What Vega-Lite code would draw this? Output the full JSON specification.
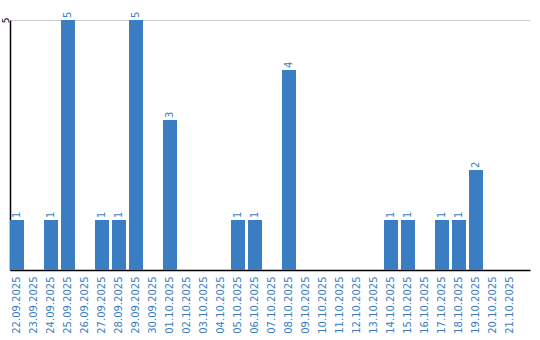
{
  "$schema": "https://vega.github.io/schema/vega-lite/v6.json",
  "autosize": {"type": "none"},
  "padding": {"left": 10, "top": 20, "right": 10, "bottom": 70},
  "width": 520,
  "height": 250,
  "background": "white",
  "data": {"values": [
    {"d": "22.09.2025", "v": 1}, {"d": "23.09.2025", "v": 0}, {"d": "24.09.2025", "v": 1},
    {"d": "25.09.2025", "v": 5}, {"d": "26.09.2025", "v": 0}, {"d": "27.09.2025", "v": 1},
    {"d": "28.09.2025", "v": 1}, {"d": "29.09.2025", "v": 5}, {"d": "30.09.2025", "v": 0},
    {"d": "01.10.2025", "v": 3}, {"d": "02.10.2025", "v": 0}, {"d": "03.10.2025", "v": 0},
    {"d": "04.10.2025", "v": 0}, {"d": "05.10.2025", "v": 1}, {"d": "06.10.2025", "v": 1},
    {"d": "07.10.2025", "v": 0}, {"d": "08.10.2025", "v": 4}, {"d": "09.10.2025", "v": 0},
    {"d": "10.10.2025", "v": 0}, {"d": "11.10.2025", "v": 0}, {"d": "12.10.2025", "v": 0},
    {"d": "13.10.2025", "v": 0}, {"d": "14.10.2025", "v": 1}, {"d": "15.10.2025", "v": 1},
    {"d": "16.10.2025", "v": 0}, {"d": "17.10.2025", "v": 1}, {"d": "18.10.2025", "v": 1},
    {"d": "19.10.2025", "v": 2}, {"d": "20.10.2025", "v": 0}, {"d": "21.10.2025", "v": 0}
  ]},
  "encoding": {
    "x": {
      "field": "d", "type": "ordinal", "sort": null,
      "scale": {"paddingInner": 0.1765, "paddingOuter": 0.382, "align": 0},
      "axis": {
        "title": null, "ticks": false, "grid": false,
        "domainColor": "#000000", "domainWidth": 1.5,
        "labelAngle": -90, "labelAlign": "right", "labelBaseline": "middle",
        "labelColor": "#3a7dc3", "labelFont": "DejaVu Sans", "labelFontSize": 10,
        "labelPadding": 6
      }
    },
    "y": {
      "field": "v", "type": "quantitative",
      "scale": {"domain": [0, 5], "nice": false},
      "axis": {
        "title": null, "values": [5], "ticks": false, "grid": true,
        "gridColor": "#cccccc", "domainColor": "#000000", "domainWidth": 1.5,
        "labelAngle": -90, "labelAlign": "center", "labelBaseline": "middle",
        "labelColor": "#000000", "labelFont": "DejaVu Sans", "labelFontSize": 9,
        "labelPadding": 5
      }
    }
  },
  "layer": [
    {"mark": {"type": "bar", "color": "#3a7dc3"}},
    {
      "transform": [{"filter": "datum.v > 0"}],
      "mark": {"type": "text", "angle": 270, "align": "left", "baseline": "middle",
               "dx": 2, "color": "#3a7dc3", "font": "DejaVu Sans", "fontSize": 10},
      "encoding": {"text": {"field": "v", "type": "quantitative"}}
    }
  ],
  "config": {"view": {"stroke": null}}
}
